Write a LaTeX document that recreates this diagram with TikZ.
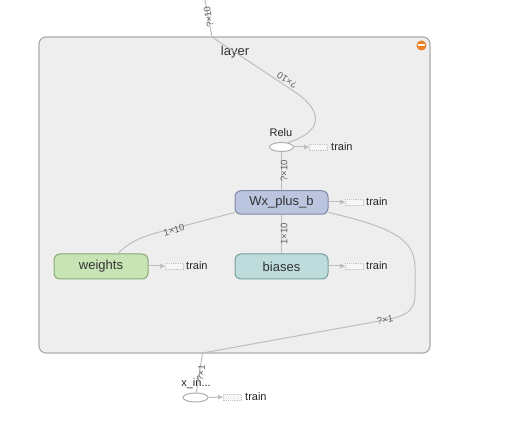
\documentclass[tikz,border=0pt]{standalone}
\usepackage{fontspec}
\setmainfont{Liberation Sans}
\usetikzlibrary{arrows.meta,shapes.geometric}
\definecolor{edgegray}{RGB}{190,190,190}
\definecolor{labgray}{RGB}{95,95,95}
\definecolor{layerfill}{RGB}{238,238,238}
\definecolor{layerdraw}{RGB}{172,172,172}
\definecolor{wxfill}{RGB}{187,197,223}
\definecolor{wxdraw}{RGB}{128,138,168}
\definecolor{wfill}{RGB}{200,228,181}
\definecolor{wdraw}{RGB}{138,168,118}
\definecolor{bfill}{RGB}{190,220,220}
\definecolor{bdraw}{RGB}{120,158,158}
\definecolor{stubfill}{RGB}{246,246,246}
\definecolor{stubdraw}{RGB}{195,195,195}
\definecolor{iconorange}{RGB}{238,128,32}
\tikzset{
  opbox/.style={draw, rounded corners=6pt, line width=1pt, inner sep=0pt,
    minimum width=93pt, minimum height=24pt, font=\fontsize{13}{14}\selectfont, text=black!80},
  opell/.style={ellipse, draw=stubdraw!90!black, fill=white, line width=1pt, inner sep=0pt,
    minimum width=24pt, minimum height=9pt},
  edge/.style={draw=edgegray, line width=1pt},
  elabel/.style={font=\fontsize{9.5}{10}\selectfont, text=labgray, inner sep=0pt},
  stubrect/.style={draw=stubdraw, dashed, dash pattern=on 1.2pt off 1pt, fill=stubfill,
    line width=0.8pt, minimum width=18pt, minimum height=6pt, inner sep=0pt, anchor=west},
  stubline/.style={draw=edgegray, line width=1pt, -{Triangle[length=5pt,width=4.5pt]}},
  trainlabel/.style={font=\fontsize{11}{12}\selectfont, text=black!85, inner sep=0pt, anchor=west},
  smalllabel/.style={font=\fontsize{11}{12}\selectfont, text=black!85, inner sep=0pt}
}
\begin{document}
\begin{tikzpicture}[x=1pt,y=-1pt]
\useasboundingbox (0,0) rectangle (528,422);
\fill[white] (0,0) rectangle (528,422);

% layer group
\node[draw=layerdraw, fill=layerfill, rounded corners=7pt, line width=1.2pt,
      minimum width=391pt, minimum height=316pt, inner sep=0pt] (layer) at (234.5,195) {};
\node[font=\fontsize{13}{14}\selectfont, text=black!80, inner sep=0pt] (layertitle) at (235,52) {layer};
\node[circle, fill=iconorange, minimum size=10pt, inner sep=0pt] (collapse) at (421.5,45.5) {};
\draw[white, line width=2pt] ([xshift=-3.2pt]collapse.center) -- ([xshift=3.2pt]collapse.center);

% op nodes
\node[opbox, fill=wxfill, draw=wxdraw, minimum height=23.5pt] (wx) at (281.5,202.5) {Wx\_plus\_b};
\node[opbox, fill=wfill, draw=wdraw, minimum width=94pt, minimum height=25pt] (weights) at (101,266.5) {weights};
\node[opbox, fill=bfill, draw=bdraw, minimum height=25pt] (biases) at (281.5,266.5) {biases};
\node[opell] (relu) at (281.5,147) {};
\node[smalllabel] (relulabel) at (281,133) {Relu};
\node[opell, minimum width=25pt] (xin) at (195.5,397.5) {};
\node[smalllabel] (xinlabel) at (196,384) {x\_in...};

% train stubs
\node[stubrect] (rtrain) at (309,147) {};
\node[trainlabel] (rtraint) at (331,146.5) {train};
\draw[stubline] (relu.east) -- (rtrain.west);
\node[stubrect] (wxtrain) at (345,202) {};
\node[trainlabel] (wxtraint) at (366,201.5) {train};
\draw[stubline] (wx.east |- wxtrain) -- (wxtrain.west);
\node[stubrect] (wtrain) at (165,266) {};
\node[trainlabel] (wtraint) at (186,265.5) {train};
\draw[stubline] (weights.east |- wtrain) -- (wtrain.west);
\node[stubrect] (btrain) at (345,266) {};
\node[trainlabel] (btraint) at (366,265.5) {train};
\draw[stubline] (biases.east |- btrain) -- (btrain.west);
\node[stubrect] (xtrain) at (223,397) {};
\node[trainlabel] (xtraint) at (245,396.5) {train};
\draw[stubline] (xin.east) -- (xtrain.west);

% edges
\coordinate (topin) at (205,0);
\coordinate (layerin) at (212,37);
\draw[edge] (topin) -- (layerin) -- (292,90) .. controls (326,112) and (322,132) .. (relu.35);
\node[elabel, rotate=100] (l1) at (208.5,17) {?×10};
\node[elabel, rotate=147] (l2) at (287,80) {?×10};

\draw[edge] (wx.north) -- (relu.south);
\node[elabel, rotate=90] (l3) at (284,171) {?×10};

\draw[edge] (biases.north) -- (wx.south);
\node[elabel, rotate=90] (l4) at (284,234) {1×10};

\draw[edge] ([xshift=17pt]weights.north) .. controls (132,239) and (150,234) .. (172,229) -- (wx.192);
\node[elabel, rotate=17] (l5) at (174,230) {1×10};

\coordinate (layerout) at (202.5,353);
\draw[edge] (wx.-12) .. controls (395,228) and (415,240) .. (415,268) -- (415,294)
  .. controls (415,312) and (405,316) .. (385,320) -- (layerout) -- (xin.80);
\node[elabel, rotate=11] (l6) at (385,320) {?×1};
\node[elabel, rotate=82] (l7) at (201,373) {?×1};
\end{tikzpicture}
\end{document}
